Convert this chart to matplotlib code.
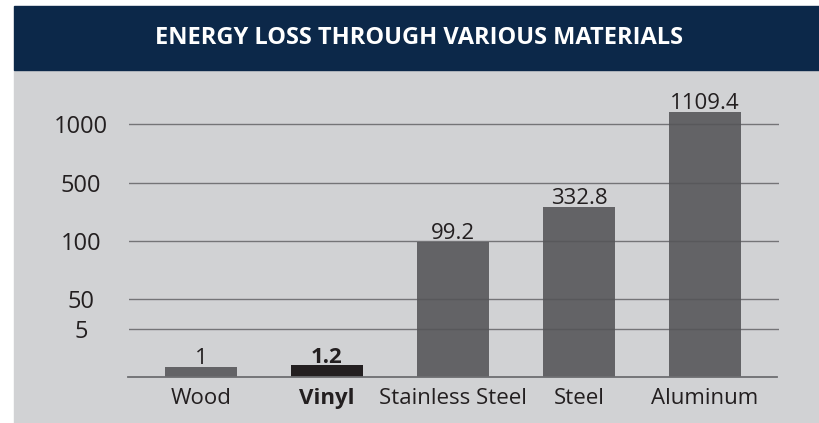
import matplotlib.pyplot as plt
from matplotlib.patches import Rectangle
import numpy as np

materials = ["Wood", "Vinyl", "Stainless Steel", "Steel", "Aluminum"]
energy_loss = [1, 1.2, 99.2, 332.8, 1109.4]
value_labels = ["1", "1.2", "99.2", "332.8", "1109.4"]
highlight = "Vinyl"
y_ticks = [5, 50, 100, 500, 1000]

# the original chart uses a hand-made, piecewise scale: ticks are not evenly spaced in value
scale_vals = np.array([0, 5, 50, 100, 500, 1000])
scale_pos = np.array([0, 47.4, 77.4, 135.7, 194.0, 252.4])
top_slope = (scale_pos[-1] - scale_pos[-2]) / (scale_vals[-1] - scale_vals[-2])


def forward(v):
    v = np.asarray(v, dtype=float)
    out = np.interp(v, scale_vals, scale_pos)
    return np.where(v > scale_vals[-1], scale_pos[-1] + (v - scale_vals[-1]) * top_slope, out)


def inverse(p):
    p = np.asarray(p, dtype=float)
    out = np.interp(p, scale_pos, scale_vals)
    return np.where(p > scale_pos[-1], scale_vals[-1] + (p - scale_pos[-1]) / top_slope, out)


W, H = 820, 423
fig = plt.figure(figsize=(W / 100, H / 100), dpi=100, facecolor="white")
plt.rcParams["font.family"] = ["Open Sans", "DejaVu Sans"]

navy = "#0c2849"
panel = "#d1d2d4"
bar_col = "#636366"
dark = "#231f20"

# background panels (pixel boxes converted to figure fractions)
fig.patches.append(Rectangle((14 / W, 0), (W - 14) / W, (H - 70) / H,
                             transform=fig.transFigure, color=panel, zorder=-2))
fig.patches.append(Rectangle((14 / W, (H - 70) / H), (W - 14) / W, 64 / H,
                             transform=fig.transFigure, color=navy, zorder=-2))
fig.text(419 / W, (H - 38.5) / H, "ENERGY LOSS THROUGH VARIOUS MATERIALS",
         color="white", fontsize=17, fontweight="bold", ha="center", va="center")

# axes: baseline at pixel row 376.7, one scale unit = one pixel
base_px = 376.7
top_units = 290
ax = fig.add_axes([129 / W, (H - base_px) / H, (779 - 129) / W, top_units / H])
ax.set_yscale("function", functions=(forward, inverse))
ax.set_facecolor("none")

x = np.arange(len(materials))
colors = [dark if m == highlight else bar_col for m in materials]
bars = ax.bar(x, energy_loss, width=72 / 126, color=colors, zorder=2)

ax.set_xlim((129 - 201) / 126, (779 - 201) / 126)
ax.set_ylim(0, float(inverse(top_units)))

ax.set_yticks(y_ticks)
ax.set_yticklabels([str(t) for t in y_ticks])
ax.set_xticks(x)
ax.set_xticklabels(materials)
ax.tick_params(axis="y", length=0, pad=34.5, labelsize=17, labelcolor=dark)
ax.tick_params(axis="x", length=0, pad=8, labelsize=16, labelcolor=dark)
for lbl in ax.get_yticklabels():
    lbl.set_horizontalalignment("center")
for lbl in ax.get_xticklabels():
    if lbl.get_text() == highlight:
        lbl.set_fontweight("bold")

ax.grid(axis="y", color="#555558", alpha=0.75, linewidth=1.0, zorder=3)
ax.grid(axis="x", visible=False)
ax.set_axisbelow(False)

for s in ["top", "right", "left"]:
    ax.spines[s].set_visible(False)
ax.spines["bottom"].set_color("#6d6e71")
ax.spines["bottom"].set_linewidth(1.3)
ax.spines["bottom"].set_bounds((128 - 201) / 126, (777 - 201) / 126)

for b, m, txt in zip(bars, materials, value_labels):
    ax.annotate(txt, (b.get_x() + b.get_width() / 2, b.get_height()),
                xytext=(0, 2), textcoords="offset points", ha="center", va="baseline",
                fontsize=16, color=dark, fontweight="bold" if m == highlight else "normal")

fig.savefig("out.png", dpi=100, facecolor="white")
